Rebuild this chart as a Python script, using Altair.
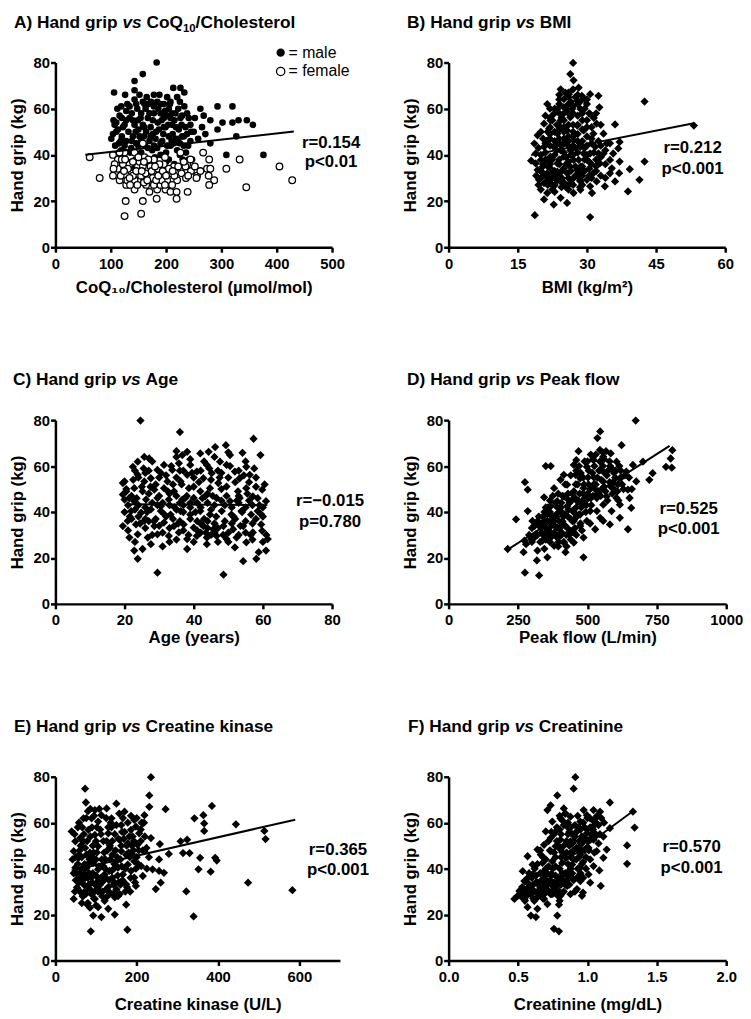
import altair as alt
import pandas as pd

FONT = "Liberation Sans"
Y_TICKS = [0, 20, 40, 60, 80]

# ---------------- data ----------------
A_MALE = [(183,80),(158,75),(143,72),(143,68),(106,67),(126,66),(213,69),(226,69),(233,67),(178,66),(188,66),(165,65),
          (158,63),(143,64),(119,61),(134,61),(196,62),(208,63),(225,63),(233,61),(262,60),(293,61),(320,61),(280,55),
          (302,54),(320,54),(331,55),(346,55),(357,53),(293,51),(271,49),(327,48),(280,45),(309,40),(376,40),(110,54),
          (107,53),(104,49),(101,47),(113,51),(125,53),(134,56),(149,55),(158,53),(167,56),(178,58),(190,58),(205,60),
          (217,58),(229,57),(241,56),(244,53),(235,52),(223,51),(211,53),(199,52),(187,51),(176,49),(164,50),(152,48),
          (140,48),(128,46),(146,45),(155,46),(170,46),(181,47),(193,46),(205,48),(217,47),(229,48),(238,49),(244,46),
          (232,44),(208,44),(184,43),(167,43),(137,43),(119,42),(241,38),(247,38),(161,62),(173,63),(184,63),(202,65),
          (220,65),(178,61),(196,56),(208,56),(155,58),(143,53),(116,57),(128,59),(150,38),(165,36),(180,39),(200,37),
          (210,33),(190,31),(140,35),(160,32),(230,38),(175,42),(155,41),(200,41),(220,42),(135,41),(125,44),(115,45),
          (105,55),(112,60),(120,56),(130,62),(138,58),(148,60),(152,66),(163,60),(170,58),(186,60),(192,55),(200,57),
          (207,62),(215,55),(222,60),(228,53),(238,58),(120,48),(132,50),(145,50),(160,48),(172,52),(185,54),(195,49),
          (212,49),(225,45),(240,44),(118,46),(108,44),(150,44),(162,44),(190,45),(202,44),(214,45),(236,41),(185,36),
          (170,34),(145,38),(130,37),(195,34),(215,36),(225,40),(250,50),(258,47),(265,52),
          (110,50),(122,52),(128,55),(140,55),(146,62),(154,56),(168,62),(176,55),(182,50),(190,62),(198,59),(204,53),
          (210,58),(218,52),(226,56),(232,48),(245,50),(160,52),(138,46),(150,51),(172,48),(196,52),(210,46),(190,40),
          (205,38),(178,44),(160,38),(222,47),(252,56),(268,57)]
A_FEMALE = [(62,39),(80,30),(104,40),(110,36),(104,31),(116,29),(128,27),(143,25),(127,20),(125,13.5),(155,14.5),
            (158,20),(170,24),(183,21),(184,25),(199,25),(208,24),(219,21),(219,24),(239,24),(158,45),(226,41),(238,36),
            (244,38),(267,41),(278,38),(274,34),(280,34),(277,31),(287,29),(278,27),(256,31),(255,30),(309,34),(333,38),
            (345,26),(405,35),(428,29),(220,29),(208,32),(196,31),(178,32),(167,34),(149,35),(134,36),(119,34),(113,38),
            (125,41),(143,41),(161,39),(178,38),(196,36),(214,35),(226,34),(235,35),(149,29),(164,27),(178,27),(190,27),
            (137,32),(128,31),(113,34),(107,36),(143,29),(155,31),(170,30),(202,29),(211,27),
            (118,31),(122,36),(131,34),(140,31),(146,33),(152,37),(158,35),(163,32),(172,35),(176,30),(185,34),(192,29),
            (205,34),(215,31),(228,32),(236,30),(245,33),(130,29),(135,27),(188,36),(168,38),(150,39),(160,28),(182,29),
            (198,39),(252,35),(262,33),(120,38),
            (124,33),(134,30),(140,37),(148,27),(156,33),(166,29),(174,33),(180,35),(186,31),(194,33),(200,31),(212,33),
            (222,35),(232,37),(240,31),(126,38),(116,41),(105,34),(160,37),(198,27)]
A_FIT_X = [54, 431]
A_FIT_Y = [40.1, 50.1]

B_PTS = [(27,79.8),(26.4,75),(27.1,72.3),(24.3,68.4),(25.3,67),(27,68.4),(28.9,65.6),(30.7,66.3),(32.5,65.6),(32.7,60.6),
         (42.5,63.1),(36.1,53.2),(53.2,52.7),(37.1,45.6),(36.8,42.8),(34.3,44.9),(42.5,37.1),(37.1,37.1),(39.3,33.8),
         (37,32.1),(36.1,28.5),(41.4,29.2),(38.9,24.2),(33.9,26.4),(31.1,23.5),(30.7,13.1),(18.7,13.9),(17.9,37.5),
         (20.7,20.7),(22.8,18.5),(25.7,19.2),(21.4,62),(22.8,57.7),(20.7,53.5),(19.3,48.5),(18.6,44.9),(18.9,40.6),
         (19.3,33.5),(19.6,29.2),(21.4,23.5),(24.3,21.4),(27.1,23.5),(28.6,24.9),(31.4,32.1),(32.8,36.3),(33.6,40.6),
         (35,37.8),(30.7,40.6),(31.8,43.5),(33.6,49.2),(31.4,49.2),(32.1,53.5),(30.7,57.7),(30,62),(28.6,59.9),
         (27.9,63.4),(25,64.1),(23.6,59.9),(22.1,54.9),(24.3,54.9),(26.4,56.3),(27.9,52.7),(29.3,50.6),(25.7,50.6),
         (23.6,49.2),(21.4,46.3),(22.8,43.5),(25,44.9),(27.1,46.3),(28.6,43.5),(30,37.8),(28.6,34.9),(27.1,37.8),
         (25,39.2),(23.6,36.3),(21.4,37.8),(20.4,34.9),(21.4,32.1),(22.8,30.6),(24.3,29.2),(25.7,32.1),(27.1,29.9),
         (28.6,28.5),(30,29.2),(25.7,26.4),(22.8,26.4),(20.7,27.8),(22.1,34.2),(25,34.2),(27.9,33.5),(29.3,40.6),
         (26.4,42),(24.3,42),(20.7,43.5),(22.1,39.2),(26.1,66.3),(28.2,69.1),(25,60.6),(26.8,59.9),(21.8,51.3),
         (23.9,52.7),(20,37.8),(23.6,32.8),(26.4,34.9),(28.2,37.8),(24.6,29.9),(21.8,29.9),(18.9,36.3),(32.1,28.5),
         (30.7,26.4),(35.4,34.2),(35.7,40.6),(32.5,40.6),
         (20,30),(21,31),(22,28),(23,27),(24,31),(25,28),(26,30),(27,27),(28,31),(23,33),(24,36),(26,37),(27,40),(28,41),
         (29,35),(23,40),(24,45),(25,47),(26,48),(27,50),(28,53),(29,55),(26,53),(25,55),(24,58),(27,58),(28,62),(26,62),
         (29,46),(30,44),(31,47),(30,52),(22,49),(21,41),(22,36),(20,33),(19,31),(20,25),(23,24),(26,25),(29,27),(31,30),
         (32,33),(33,31),(34,36),(31,36),(29,31),(26,44),(23,46),(22,52),(24,51),(27,44),(25,41),(24,38),(22,44),
         (20.5,36),(21.5,29),(22.5,32),(23.5,29),(24.5,33),(25.5,36),(26.5,33),(27.5,35),(28.5,32),(29.5,38),(30.5,34),
         (21,45),(22,47),(23,44),(24,47),(25,50),(26,46),(27,48),(28,49),(29,51),(30,48),(31,45),(22,56),(23,60),(24,62),
         (25,58),(26,58),(27,61),(28,57),(29,58),(30,55),(31,52),(24,66),(26,65),(28,66),(30,64),(21,38),(20,40),
         (19.5,43),(22.5,25),(24.5,26),(26.5,28),(28.5,26),(30.5,31),(32,38),(33,44),(34,42),(35,45),(33,53),(32,58),
         (19.5,27),(20.5,32),(21.5,35),(22.5,38),(23.5,42),(24.5,44),(25.5,39),(26.5,40),(27.5,43),(28.5,45),(29.5,43),
         (20.5,47),(21.5,50),(22.5,55),(23.5,53),(24.5,56),(25.5,60),(26.5,63),(27.5,65),(28.5,63),(29.5,60),(30.5,58),
         (21.5,27),(22.5,30),(23.5,31),(24.5,28),(25.5,26),(26.5,29),(27.5,31),(28.5,29),(29.5,33),(30.5,37),(31.5,41),
         (32.5,46),(31.5,56),(29.5,64),(26,67),(24,64),(22,60),(20,50),(21,57),(23,50),(25,52),(27,53),(28,46),(30,40),
         (32,35),(33,39),(34,30),(35,32)]
B_FIT_X = [17.9, 53.2]
B_FIT_Y = [39.9, 53.7]

C_PTS = [(24.6,79.8),(36,74.8),(57.3,71.9),(59.3,64.8),(49.3,69.1),(46.2,68.3),(44.3,66.2),(41.9,65.5),(38.1,66.2),
         (35,66.5),(36.7,64.8),(54.1,65.8),(27.1,63.3),(25.7,64),(23.8,61.9),(22.4,59.7),(20,53.3),(19.5,52.6),(20.5,49),
         (20,45.4),(19.5,33.9),(21.4,28.9),(23.8,19.6),(22.8,23.2),(29.5,13.6),(48.6,12.7),(54.3,18.6),(58.1,19.6),
         (58.8,22.5),(60.9,23.2),(61.4,28.2),(59.8,31.8),(59.5,34.6),(60.9,44.7),(59.8,49.7),(56.2,56.2),(55.2,59.7),
         (51.9,57.6),(49.5,60.5),(47.6,61.9),(45.2,56.9),(42.8,54.7),(40.9,57.6),(39,60.5),(38.1,56.2),(36.2,53.3),
         (33.8,58.3),(31.4,60.5),(29.5,58.3),(27.6,54.7),(25.7,53.3),(23.8,56.2),(22.8,50.4),(25.2,49),(28.6,49.7),
         (31.4,50.4),(34.3,49),(38.6,50.4),(41.9,49),(44.7,50.4),(47.1,52.6),(49.5,51.1),(52.8,49),(55.2,50.4),
         (57.1,46.8),(53.3,46.1),(50.5,44.7),(46.6,46.1),(43.3,46.8),(40,46.1),(36.7,45.4),(32.8,45.4),(29.5,46.1),
         (26.2,45.4),(22.8,44.7),(21.4,46.1),(21.9,40.4),(24.8,39.7),(27.6,41.1),(30.5,40.4),(33.3,38.9),(36.2,40.4),
         (39,38.9),(41.9,40.4),(44.7,38.9),(48.1,40.4),(50.9,38.9),(53.8,40.4),(56.6,38.9),(58.5,40.4),(20.9,36.1),
         (23.3,34.6),(25.7,36.1),(28.6,33.9),(31.4,35.4),(34.3,33.9),(37.1,34.6),(40,33.2),(42.8,33.9),(45.7,32.5),
         (48.6,33.9),(51.4,32.5),(54.3,33.9),(57.1,31.1),(23.8,30.3),(26.7,28.9),(29.5,30.3),(32.8,29.6),(35.7,31.1),
         (38.1,28.2),(40.9,29.6),(43.8,28.9),(46.6,29.6),(49.5,28.2),(52.4,28.9),(55.2,26.8),(38.1,23.9),(43.8,26),
         (51.9,24.6),(27.6,26),(25.2,23.9),(30.5,42.5),(32.4,53.3),(35.7,61.2),(43.8,60.5),(50.5,64.8),(53.3,54.7),
         (19.5,47.6),
         (21,43),(23,41),(26,42),(28,44),(30,47),(33,43),(35,41),(37,43),(39,44),(42,42),(44,44),(46,43),(48,45),(51,42),
         (53,44),(55,42),(57,43),(60,42),(22,37),(24,38),(27,36),(29,37),(34,37),(36,36),(39,37),(41,36),(43,37),(46,35),
         (49,36),(52,37),(55,36),(58,37),(24,55),(27,58),(29,52),(32,56),(35,55),(37,58),(40,55),(42,58),(45,54),(48,57),
         (50,55),(53,58),(56,53),(58,55),(31,31),(42,31),(47,27),(53,30),(57,28),(26,33),(33,27),(37,32),(44,33),(50,31),
         (20,40),(22,47),(24,43),(25,51),(26,57),(28,62),(30,55),(31,44),(32,38),(33,33),(34,52),(35,47),(36,58),(37,40),
         (38,47),(39,63),(40,51),(41,44),(42,35),(43,62),(44,48),(45,41),(46,31),(47,58),(48,50),(49,43),(50,66),(51,35),
         (52,53),(53,47),(54,40),(55,62),(56,45),(57,35),(58,51),(59,43),(60,38),(61,30),(21,32),(23,27),(28,30),(31,25),
         (35,28),(40,27),(45,30),(50,27),(55,31),(60,27),(27,48),(33,48),(39,42),
         (20.5,50),(21.5,38),(22.5,54),(23.5,46),(24.5,35),(25.5,59),(26.5,40),(27.5,51),(28.5,36),(29.5,43),(30.5,57),
         (31.5,39),(32.5,49),(33.5,60),(34.5,42),(35.5,35),(36.5,52),(37.5,46),(38.5,30),(39.5,57),(40.5,40),(41.5,53),
         (42.5,46),(43.5,31),(44.5,59),(45.5,47),(46.5,38),(47.5,55),(48.5,30),(49.5,47),(50.5,60),(51.5,38),(52.5,45),
         (53.5,34),(54.5,56),(55.5,48),(56.5,30),(57.5,59),(58.5,46),(59.5,39),(60.5,52),(44,36),(47,33),(41,32),(36,44),
         (30,34),(26,37),(23,58),(35,64),(46,64)]
C_FIT_X = [21.6, 61.3]
C_FIT_Y = [43.4, 43.0]

D_PTS = [(674,79.8),(546,75.1),(536,72.2),(623,69.1),(567,66.5),(584,65.5),(512,65),(468,66.5),(460,62.6),(350,60),
         (368,60),(806,66.9),(800,63.3),(783,59.7),(804,59.3),(735,56.9),(723,54),(700,61.9),(664,60.5),(676,53.3),
         (646,49.7),(658,41.8),(646,32.5),(617,43.2),(587,40.4),(557,36.1),(528,32.5),(486,20.3),(421,22.5),(326,12.4),
         (275,13.6),(270,22.5),(318,18.9),(356,20.3),(320,23.2),(279,26),(243,36.8),(213,23.9),(285,40.4),(275,53),
         (285,49.7),(344,46.4),(403,54),(457,56.2),(498,59.7),(546,58.3),(593,58.3),(617,54.7),(593,50.4),(557,53.3),
         (522,51.9),(486,50.4),(451,49),(415,46.8),(391,44.7),(368,42.5),(356,39),(380,37.5),(403,40.4),(427,42.5),
         (463,44.7),(498,45.4),(534,46.1),(569,46.8),(605,46.1),(510,40.4),(474,38.9),(451,36.1),(415,34.6),(391,33.2),
         (356,31.8),(332,33.2),(314,30.3),(338,27.5),(368,28.9),(403,29.6),(439,31.8),(474,33.9),(498,36.1),(534,40.4),
         (557,43.2),(486,28.9),(451,26.7),(415,26.7),(380,25.3),(297,28.2),(344,36.1),(427,51.9),(474,54.7),(522,62.6),
         (557,64.1),(605,61.9),(451,60.5),(415,56.2),(380,50.4),(302,36.1),(273,27.5),(308,33.9),(640,57.6),(652,46.1),
         (617,37.5),(546,37.5),(581,34.6),
         (340,30),(350,28),(360,32),(370,34),(380,31),(390,29),(400,33),(410,36),(420,34),(430,38),(440,37),(450,40),
         (460,42),(470,39),(480,44),(490,46),(500,48),(510,50),(520,47),(530,52),(540,49),(550,54),(560,51),(570,56),
         (580,53),(590,48),(600,55),(610,52),(620,58),(630,50),(365,40),(385,44),(405,42),(425,46),(445,48),(465,52),
         (485,55),(505,58),(525,60),(545,62),(395,30),(415,27),(435,30),(455,33),(475,35),(355,36),(375,38),(330,27),
         (345,24),(320,30),
         (300,27),(310,34),(325,38),(335,31),(345,40),(355,30),(365,27),(372,37),(383,34),(392,42),(398,36),(408,31),
         (418,39),(428,33),(436,44),(446,36),(456,46),(462,38),(472,48),(478,42),(488,52),(496,43),(502,55),(512,46),
         (518,57),(528,50),(536,55),(548,47),(556,60),(565,49),(574,58),(585,51),(596,57),(608,49),(615,60),(625,52),
         (635,56),(650,55),(660,50),(420,52),(440,56),(470,60),(500,62),(530,65),(560,63),(580,62),(440,28),(460,30),
         (480,32),(510,35),
         (330,35),(340,38),(350,33),(358,42),(366,30),(378,36),(388,39),(396,27),(406,44),(414,38),(424,30),(432,41),
         (442,45),(452,31),(458,52),(468,45),(476,57),(484,48),(494,40),(504,52),(514,43),(524,55),(532,47),(542,58),
         (552,50),(562,57),(572,45),(582,60),(592,53),(602,58),(612,45),(622,55),(545,67),(555,66),(520,63),(490,62),
         (460,58),(430,48),(410,47),(395,48),(375,47),(365,45),(350,42),(340,34),(320,36),(310,29),(300,33),(290,30),
         (395,25),(425,25)]
D_FIT_X = [214, 796]
D_FIT_Y = [23.7, 68.8]

E_PTS = [(235,79.8),(73,74.8),(231,71.9),(75,68.8),(231,66.9),(271,65.9),(385,67.3),(364,63.3),(342,61.9),(366,59.7),
         (366,56.4),(444,59.3),(514,56.4),(517,52.9),(235,53.3),(257,50.7),(308,51.9),(324,52.6),(314,46.8),(330,46.8),
         (279,46.4),(255,44),(239,39.7),(255,39),(267,38.2),(259,33.9),(247,31.1),(322,30.1),(340,19.2),(356,44.7),
         (352,39.7),(393,44.7),(397,43.5),(382,38.7),(474,33.9),(583,30.6),(177,13.4),(87,12.7),(113,18.9),(146,20),
         (174,24.3),(93,19.6),(45,26.8),(40,56.2),(49,51.9),(126,66.2),(150,68.3),(170,64.8),(194,61.2),(215,59.7),
         (97,65.5),(69,61.9),(105,60.5),(138,61.9),(162,59),(186,56.9),(81,56.9),(61,53.3),(97,54.7),(130,55.4),
         (158,52.6),(178,51.1),(202,50.4),(219,47.6),(73,49),(105,49.7),(134,49),(162,47.6),(190,46.1),(57,44.7),
         (89,45.4),(121,44),(150,43.2),(178,41.8),(211,41.1),(49,40.4),(77,40.4),(105,39.7),(138,39),(166,37.5),
         (194,36.1),(215,36.8),(61,36.1),(89,36.1),(117,34.6),(146,33.9),(174,33.2),(198,32.5),(53,31.8),(81,31.8),
         (109,30.3),(134,29.6),(158,28.9),(69,28.2),(97,26.8),(121,26),(146,27.5),(77,24.6),(105,23.2),(130,22.5),
         (57,33.9),(93,42.5),(69,51.9),(45,47.6),(113,63.3),(89,61.9),(219,63.3),(198,58.3),(206,55.4),(73,37.5),
         (121,37.5),(154,40.4),(186,39),(194,43.2),
         (50,35),(60,38),(70,33),(80,36),(90,34),(100,37),(110,33),(120,35),(130,32),(140,36),(150,31),(60,30),(75,29),
         (85,31),(95,27),(105,30),(115,28),(125,31),(55,42),(65,45),(80,42),(100,44),(120,47),(140,46),(160,44),(180,47),
         (200,45),(70,55),(90,58),(110,57),(130,58),(150,59),(170,56),(190,54),(210,57),(100,52),(140,52),(175,50),
         (70,40),(85,47),(145,42),(165,35),(185,36),(95,63),(125,62),(200,62),(215,48),(230,45),(80,25),(100,24),
         (48,30),(52,38),(58,46),(63,35),(67,28),(72,42),(78,52),(83,38),(88,29),(92,50),(98,33),(102,58),(107,41),
         (112,36),(118,52),(123,44),(128,28),(133,39),(138,58),(143,33),(148,48),(153,37),(157,64),(163,41),(168,53),
         (172,30),(178,60),(183,45),(188,50),(193,52),(198,40),(205,48),(212,60),(220,54),(225,40),(60,48),(66,58),
         (76,62),(86,66),(108,66),(118,41),(128,48),(135,44),(155,53),(160,33),(42,44),(47,55),(55,58),(65,25),(85,23),
         (45,38),(50,45),(55,31),(62,50),(68,37),(72,30),(76,46),(82,33),(86,54),(92,38),(96,30),(102,47),(106,35),
         (112,55),(116,30),(122,40),(126,52),(132,35),(136,60),(142,29),(146,55),(152,45),(156,34),(162,50),(166,62),
         (172,40),(176,32),(182,54),(186,63),(192,48),(196,34),(204,42),(210,52),(218,60),(224,49),(64,40),(74,36),
         (84,44),(94,47),(104,32),(114,44),(124,36),(134,50),(144,40),(154,28),(164,56),(174,46),(184,30),(58,60),(80,65)]
E_FIT_X = [40, 590]
E_FIT_Y = [39.2, 61.3]

F_PTS = [(0.913,79.8),(0.901,74.8),(0.783,71.9),(1.162,68.8),(0.735,67.6),(0.712,65.5),(0.830,66.2),(0.973,65.5),
         (1.044,65.5),(1.091,64.8),(1.328,64.8),(1.340,57.9),(1.286,50.1),(1.286,42.1),(1.162,57.6),(1.115,54),
         (1.139,48.3),(1.115,44.7),(1.086,39.2),(1.096,32.5),(1.008,37.5),(0.968,29.6),(0.878,28.9),(0.795,24.3),
         (0.783,19.6),(0.759,13.8),(0.795,12.7),(0.629,18.9),(0.593,19.6),(0.569,23.2),(0.474,26.8),(0.510,30.3),
         (0.546,34.6),(0.569,45.4),(0.640,48.3),(0.688,50.4),(0.700,56.2),(0.747,60.5),(0.806,61.9),(0.878,62.6),
         (0.949,60.5),(1.020,61.9),(1.067,59.7),(0.783,56.9),(0.854,58.3),(0.925,56.2),(0.996,55.4),(1.044,52.6),
         (0.735,53.3),(0.806,52.6),(0.878,51.9),(0.949,51.1),(1.008,49),(1.067,47.6),(0.664,46.1),(0.735,47.6),
         (0.806,48.3),(0.878,46.8),(0.949,46.1),(1.020,44),(0.605,41.8),(0.676,42.5),(0.747,43.2),(0.818,42.5),
         (0.890,41.8),(0.949,40.4),(1.044,41.1),(0.534,38.9),(0.605,37.5),(0.676,38.2),(0.747,37.5),(0.818,36.8),
         (0.890,36.1),(0.949,34.6),(1.020,33.9),(0.569,33.9),(0.640,33.9),(0.712,33.2),(0.783,32.5),(0.854,32.5),
         (0.925,31.1),(0.593,29.6),(0.664,29.6),(0.735,28.9),(0.806,28.2),(0.546,26.8),(0.617,26),(0.688,26.8),
         (0.961,28.2),(0.640,22.5),(0.712,24.6),(0.866,38.9),(0.937,49),(0.842,64),(0.996,63.3),(0.771,49.7),(0.498,28.2),
         (0.62,30),(0.65,33),(0.68,31),(0.7,35),(0.72,30),(0.74,33),(0.76,31),(0.78,34),(0.8,30),(0.82,35),(0.84,38),
         (0.86,42),(0.88,45),(0.9,48),(0.92,44),(0.94,52),(0.96,54),(0.98,58),(1.0,57),(1.02,53),(1.04,57),(1.06,62),
         (0.75,40),(0.77,45),(0.79,50),(0.81,55),(0.83,59),(0.85,52),(0.87,50),(0.89,55),(0.91,59),(0.93,63),(0.95,47),
         (0.97,43),(0.99,40),(0.66,38),(0.64,42),(0.6,36),(0.58,33),(0.56,31),(0.7,44),(0.73,48),(0.9,35),(0.94,37),
         (1.05,47),(1.08,51),(0.52,28),(0.55,26),(0.68,27),(0.8,26),
         (0.54,29),(0.57,36),(0.59,29),(0.61,33),(0.63,27),(0.63,37),(0.65,29),(0.67,35),(0.69,29),(0.71,38),(0.73,35),
         (0.75,29),(0.77,37),(0.79,28),(0.81,33),(0.83,30),(0.85,35),(0.87,33),(0.89,38),(0.91,30),(0.93,40),(0.95,38),
         (0.97,36),(0.72,41),(0.76,47),(0.78,52),(0.8,57),(0.82,47),(0.84,45),(0.86,55),(0.88,58),(0.9,52),(0.92,56),
         (0.94,58),(0.96,51),(0.98,48),(1.0,52),(1.02,58),(1.04,61),(1.06,55),(1.08,59),(1.1,62),(0.86,60),(0.84,64),
         (0.8,63),(0.76,55),(0.7,40),(0.68,45),(0.62,40),(1.12,60),
         (0.53,32),(0.56,28),(0.58,38),(0.6,31),(0.61,27),(0.63,34),(0.64,30),(0.66,32),(0.67,28),(0.69,33),(0.7,37),
         (0.71,31),(0.72,34),(0.74,37),(0.74,29),(0.76,34),(0.77,41),(0.78,30),(0.79,36),(0.8,40),(0.81,45),(0.82,38),
         (0.83,50),(0.84,33),(0.85,47),(0.86,37),(0.87,56),(0.88,40),(0.89,51),(0.9,44),(0.91,54),(0.92,49),(0.93,36),
         (0.94,45),(0.95,57),(0.96,42),(0.97,60),(0.98,53),(0.99,45),(1.0,62),(1.01,48),(1.03,55),(1.05,59),(1.07,63),
         (1.09,55),(0.78,58),(0.82,61),(0.74,56),(0.72,52),(0.66,48)]
F_FIT_X = [0.467, 1.332]
F_FIT_Y = [26.7, 65.2]

# ---------------- helpers ----------------
AW = {' ': 278, '(': 333, ')': 333, '/': 278, 'A': 722, 'B': 722, 'C': 722, 'D': 722, 'E': 667, 'F': 611,
      'H': 722, 'I': 278, 'M': 833, 'P': 667, 'Q': 778, 'a': 556, 'c': 556, 'd': 611, 'e': 556, 'f': 333,
      'g': 611, 'h': 611, 'i': 278, 'k': 556, 'l': 278, 'n': 611, 'o': 611, 'p': 611, 'r': 389, 's': 556,
      't': 333, 'v': 556, 'w': 778}
TSIZE = 17.5
SUBSIZE = 11.5


def text_width(s, size):
    return sum(AW.get(ch, 556) for ch in s) * size / 1000.0


def df_of(pts):
    return pd.DataFrame({"x": [p[0] for p in pts], "y": [p[1] for p in pts]})


ONE = alt.Data(values=[{"k": 1}])


def label(txt, x, y, size=17, weight="bold", style="normal", align="center", baseline="middle"):
    return alt.Chart(ONE).mark_text(text=txt, font=FONT, fontSize=size, fontWeight=weight, fontStyle=style,
                                    align=align, baseline=baseline, color="black").encode(
        x=alt.value(x), y=alt.value(y))


def title_marks(letter, rest, x0, y_top, sub=None, tail=None):
    sub_y = y_top + 0.79 * (TSIZE - SUBSIZE) + 4.5
    parts = [(letter + ") Hand grip", "normal", TSIZE, y_top), (" ", "normal", TSIZE, y_top),
             ("vs", "italic", TSIZE, y_top), (" ", "normal", TSIZE, y_top), (rest, "normal", TSIZE, y_top)]
    if sub:
        parts.append((sub, "normal", SUBSIZE, sub_y))
        parts.append((tail, "normal", TSIZE, y_top))
    out = []
    x = x0
    for txt, st, sz, yy in parts:
        if txt.strip():
            out.append(label(txt, x, yy, size=sz, style=st, align="left", baseline="top"))
        x += text_width(txt, sz)
    return out


def panel(point_layers, fit_x, fit_y, xdom, xticks, xtitle, xfmt, width, height, xpad,
          r_txt, p_txt, ann_x, ann_y, titles, extra=()):
    xenc = alt.X("x:Q", scale=alt.Scale(domain=xdom, nice=False, zero=False),
                 axis=alt.Axis(values=xticks, title=xtitle, format=xfmt, titlePadding=xpad))
    yenc = alt.Y("y:Q", scale=alt.Scale(domain=[0, 80], nice=False),
                 axis=alt.Axis(values=Y_TICKS, title="Hand grip (kg)", format="d"))
    layers = []
    for pts, mk in point_layers:
        layers.append(alt.Chart(df_of(pts)).mark_point(**mk).encode(x=xenc, y=yenc))
    fit = pd.DataFrame({"x": fit_x, "y": fit_y})
    layers.append(alt.Chart(fit).mark_line(color="black", strokeWidth=2).encode(x="x:Q", y="y:Q"))
    layers.append(label(r_txt, ann_x, ann_y[0]))
    layers.append(label(p_txt, ann_x, ann_y[1]))
    layers.extend(titles)
    layers.extend(extra)
    return alt.layer(*layers).properties(width=width, height=height)


DIAMOND = dict(shape="diamond", filled=True, color="black", size=70, opacity=1)
MALE = dict(shape="circle", filled=True, color="black", size=45, opacity=1)
FEMALE = dict(shape="circle", filled=True, fill="white", stroke="black", strokeWidth=1.3, size=45, opacity=1)

legend = [
    alt.Chart(ONE).mark_point(shape="circle", filled=True, color="black", size=70, opacity=1).encode(
        x=alt.value(228), y=alt.value(-10)),
    alt.Chart(ONE).mark_point(shape="circle", filled=True, fill="white", stroke="black", strokeWidth=1.3,
                              size=70, opacity=1).encode(x=alt.value(228), y=alt.value(9)),
    label("= male", 236, -10, size=16, weight="normal", align="left"),
    label("= female", 236, 9, size=16, weight="normal", align="left"),
]

pA = panel([(A_MALE, MALE), (A_FEMALE, FEMALE)], A_FIT_X, A_FIT_Y, [0, 500], [0, 100, 200, 300, 400, 500],
           "CoQ\u2081\u2080/Cholesterol (\u00b5mol/mol)", "d", 280, 187, 9, "r=0.154", "p<0.01", 279, [82, 101],
           title_marks("A", "CoQ", -42, -49, sub="10", tail="/Cholesterol"), extra=legend)
pB = panel([(B_PTS, DIAMOND)], B_FIT_X, B_FIT_Y, [0, 60], [0, 15, 30, 45, 60], "BMI (kg/m\u00b2)", "d",
           280, 187, 9, "r=0.212", "p<0.001", 247, [87, 108], title_marks("B", "BMI", -42, -49))
pC = panel([(C_PTS, DIAMOND)], C_FIT_X, C_FIT_Y, [0, 80], [0, 20, 40, 60, 80], "Age (years)", "d",
           280, 186, 2, "r=\u22120.015", "p=0.780", 278, [82, 103], title_marks("C", "Age", -43, -50))
pD = panel([(D_PTS, DIAMOND)], D_FIT_X, D_FIT_Y, [0, 1000], [0, 250, 500, 750, 1000], "Peak flow (L/min)", "d",
           281, 186, 2, "r=0.525", "p<0.001", 243, [90, 110], title_marks("D", "Peak flow", -42, -50))
pE = panel([(E_PTS, DIAMOND)], E_FIT_X, E_FIT_Y, [0, 700], [0, 200, 400, 600], "Creatine kinase (U/L)", "d",
           288, 186, 13, "r=0.365", "p<0.001", 286, [74, 94], title_marks("E", "Creatine kinase", -42, -59))
pF = panel([(F_PTS, DIAMOND)], F_FIT_X, F_FIT_Y, [0, 2], [0, 0.5, 1.0, 1.5, 2.0], "Creatinine (mg/dL)", ".1f",
           281, 186, 13, "r=0.570", "p<0.001", 246, [71, 92], title_marks("F", "Creatinine", -41, -59))

chart = alt.concat(pA, pB, pC, pD, pE, pF, columns=2, spacing={"row": 175, "column": 110},
                   bounds="flush").properties(padding=0).configure_view(
    strokeWidth=0).configure_axis(
    domainColor="black", domainWidth=2.5, tickColor="black", tickWidth=2.5, tickSize=5,
    labelFont=FONT, labelFontSize=15, labelFontWeight="bold", labelColor="black", labelFlush=False,
    titleFont=FONT, titleFontSize=17, titleFontWeight="bold", titleColor="black", grid=False
).configure_axisX(labelPadding=4).configure_axisY(labelPadding=1, titlePadding=7)

chart.save("out.html", embed_options={"renderer": "svg", "actions": False})
